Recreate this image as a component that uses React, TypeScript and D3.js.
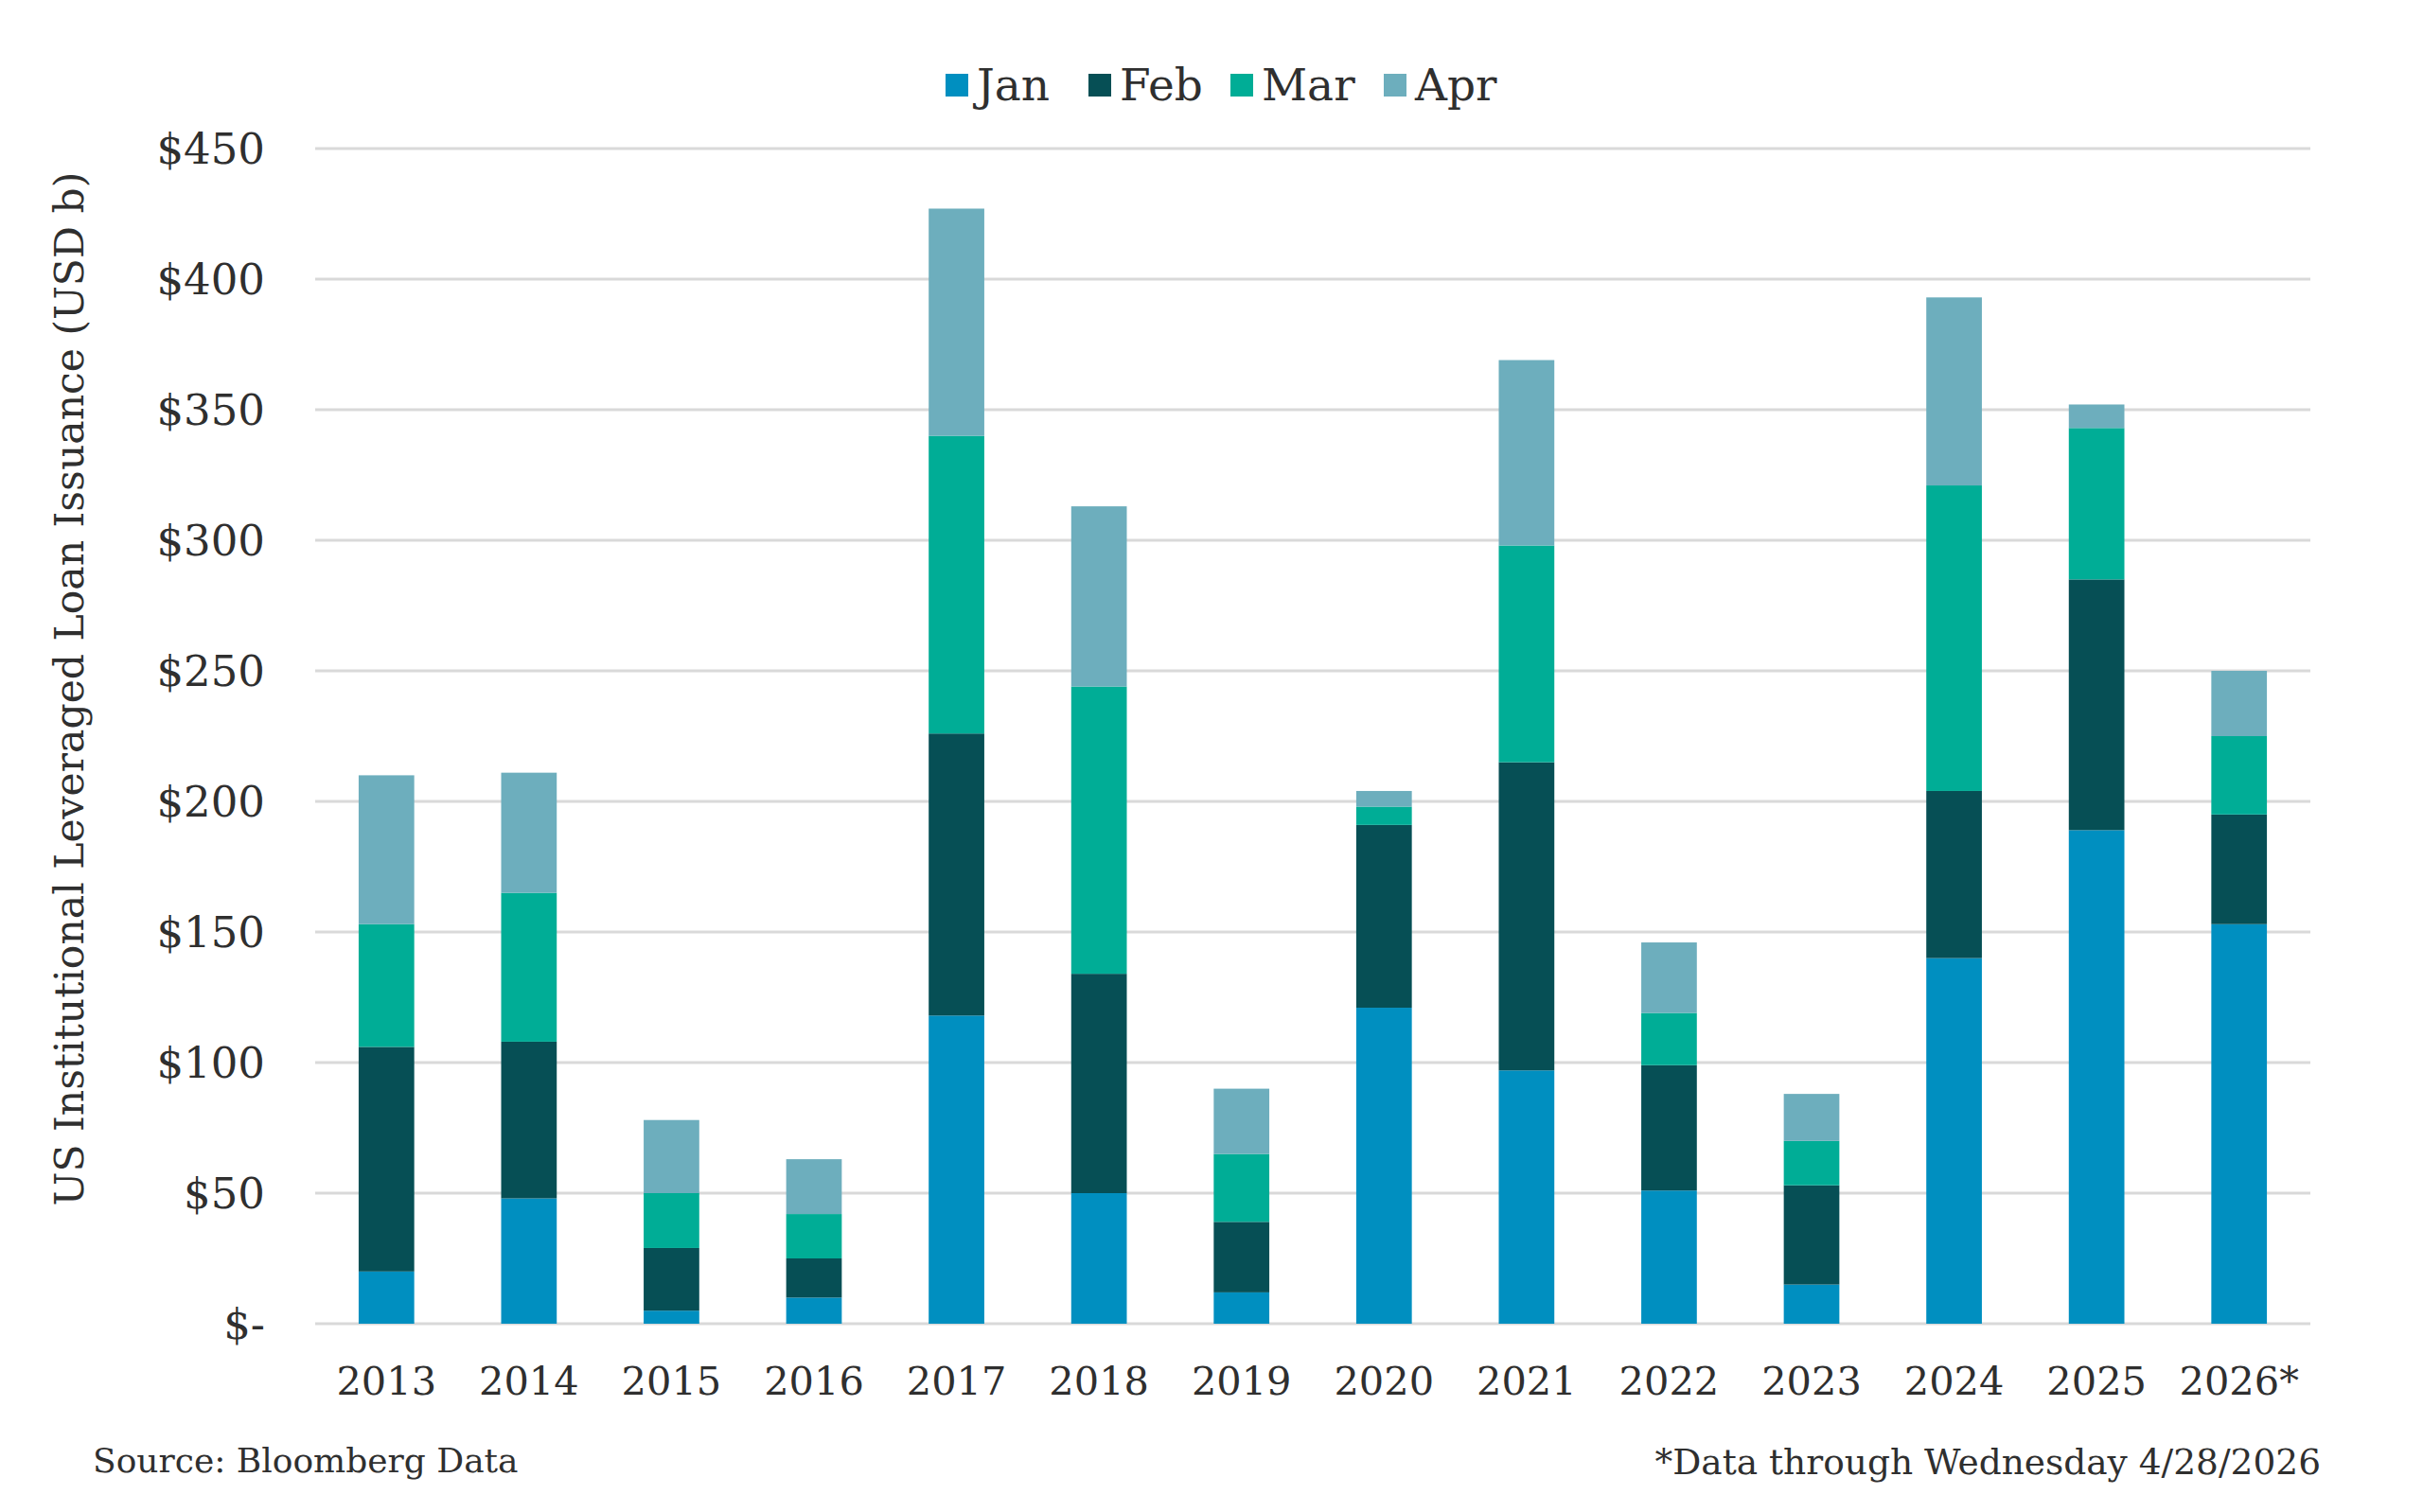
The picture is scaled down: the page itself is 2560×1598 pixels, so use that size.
import React, { useRef, useEffect } from 'react';
import * as d3 from 'd3';

const years = ['2013', '2014', '2015', '2016', '2017', '2018', '2019', '2020', '2021', '2022', '2023', '2024', '2025', '2026*'];
const months = ['Jan', 'Feb', 'Mar', 'Apr'];

const jan = [20, 48, 5, 10, 118, 50, 12, 121, 97, 51, 15, 140, 189, 153];
const feb = [86, 60, 24, 15, 108, 84, 27, 70, 118, 48, 38, 64, 96, 42];
const mar = [47, 57, 21, 17, 114, 110, 26, 7, 83, 20, 17, 117, 58, 30];
const apr = [57, 46, 28, 21, 87, 69, 25, 6, 71, 27, 18, 72, 9, 25];

const yTicks = [0, 50, 100, 150, 200, 250, 300, 350, 400, 450];
const colors = ['#008fc0', '#064f55', '#00ad96', '#6daebd'];

const W = 2560;
const H = 1598;
const FONT = '"DejaVu Serif", Georgia, serif';
const TEXT = '#2f2f2f';

const App: React.FC = () => {
    const svgRef = useRef<SVGSVGElement | null>(null);

    useEffect(() => {
        const svg = d3.select(svgRef.current);
        svg.selectAll('*').remove();

        const margin = { top: 157, right: W - 2441, bottom: H - 1399, left: 333 };

        const rows = years.map((y, i) => ({ year: y, Jan: jan[i], Feb: feb[i], Mar: mar[i], Apr: apr[i] }));
        const series = d3.stack<any>().keys(months)(rows);

        const x = d3.scaleBand()
            .domain(years)
            .range([margin.left, W - margin.right])
            .paddingInner(0.61)
            .paddingOuter(0.305);

        const y = d3.scaleLinear()
            .domain([0, 450])
            .range([H - margin.bottom, margin.top]);

        // gridlines
        svg.append('g')
            .selectAll('line')
            .data(yTicks)
            .enter()
            .append('line')
            .attr('x1', margin.left)
            .attr('x2', W - margin.right)
            .attr('y1', d => y(d))
            .attr('y2', d => y(d))
            .style('stroke', '#d9d9d9')
            .style('stroke-width', '3px');

        // y tick labels
        svg.append('g')
            .selectAll('text')
            .data(yTicks)
            .enter()
            .append('text')
            .attr('x', 280)
            .attr('y', d => y(d))
            .attr('dy', '0.35em')
            .attr('text-anchor', 'end')
            .style('font-family', FONT)
            .style('font-size', '45px')
            .style('fill', TEXT)
            .text(d => (d === 0 ? '$-' : `$${d}`));

        // bars
        svg.append('g')
            .selectAll('g')
            .data(series)
            .enter()
            .append('g')
            .attr('fill', (d, i) => colors[i])
            .selectAll('rect')
            .data(d => d)
            .enter()
            .append('rect')
            .attr('x', d => x(d.data.year) as number)
            .attr('width', x.bandwidth())
            .attr('y', d => y(d[1]))
            .attr('height', d => y(d[0]) - y(d[1]));

        // x labels
        svg.append('g')
            .selectAll('text')
            .data(years)
            .enter()
            .append('text')
            .attr('x', d => (x(d) as number) + x.bandwidth() / 2)
            .attr('y', 1474)
            .attr('text-anchor', 'middle')
            .style('font-family', FONT)
            .style('font-size', '41.5px')
            .style('fill', TEXT)
            .text(d => d);

        // y axis title
        svg.append('text')
            .attr('transform', `translate(88, 728) rotate(-90)`)
            .attr('text-anchor', 'middle')
            .style('font-family', FONT)
            .style('font-size', '42.5px')
            .style('fill', TEXT)
            .text('US Institutional Leveraged Loan Issuance (USD b)');

        // legend
        const legendX = [999, 1150, 1300, 1462];
        const legend = svg.append('g');
        months.forEach((m, i) => {
            const row = legend.append('g').attr('transform', `translate(${legendX[i]}, 90)`);
            row.append('rect')
                .attr('x', 0)
                .attr('y', -12)
                .attr('width', 24)
                .attr('height', 24)
                .attr('fill', colors[i]);
            row.append('text')
                .attr('x', 33)
                .attr('y', 0)
                .attr('dy', '0.35em')
                .style('font-family', FONT)
                .style('font-size', '47px')
                .style('fill', TEXT)
                .text(m);
        });

        // footer
        svg.append('text')
            .attr('x', 98)
            .attr('y', 1556)
            .style('font-family', FONT)
            .style('font-size', '36px')
            .style('fill', TEXT)
            .text('Source: Bloomberg Data');

        svg.append('text')
            .attr('x', 2452)
            .attr('y', 1558)
            .attr('text-anchor', 'end')
            .style('font-family', FONT)
            .style('font-size', '37.5px')
            .style('fill', TEXT)
            .text('*Data through Wednesday 4/28/2026');
    }, []);

    return (
        <div style={{ position: 'absolute', left: 0, top: 0 }}>
            <svg ref={svgRef} width={W} height={H} style={{ display: 'block', background: '#fff' }}></svg>
        </div>
    );
};

export default App;
